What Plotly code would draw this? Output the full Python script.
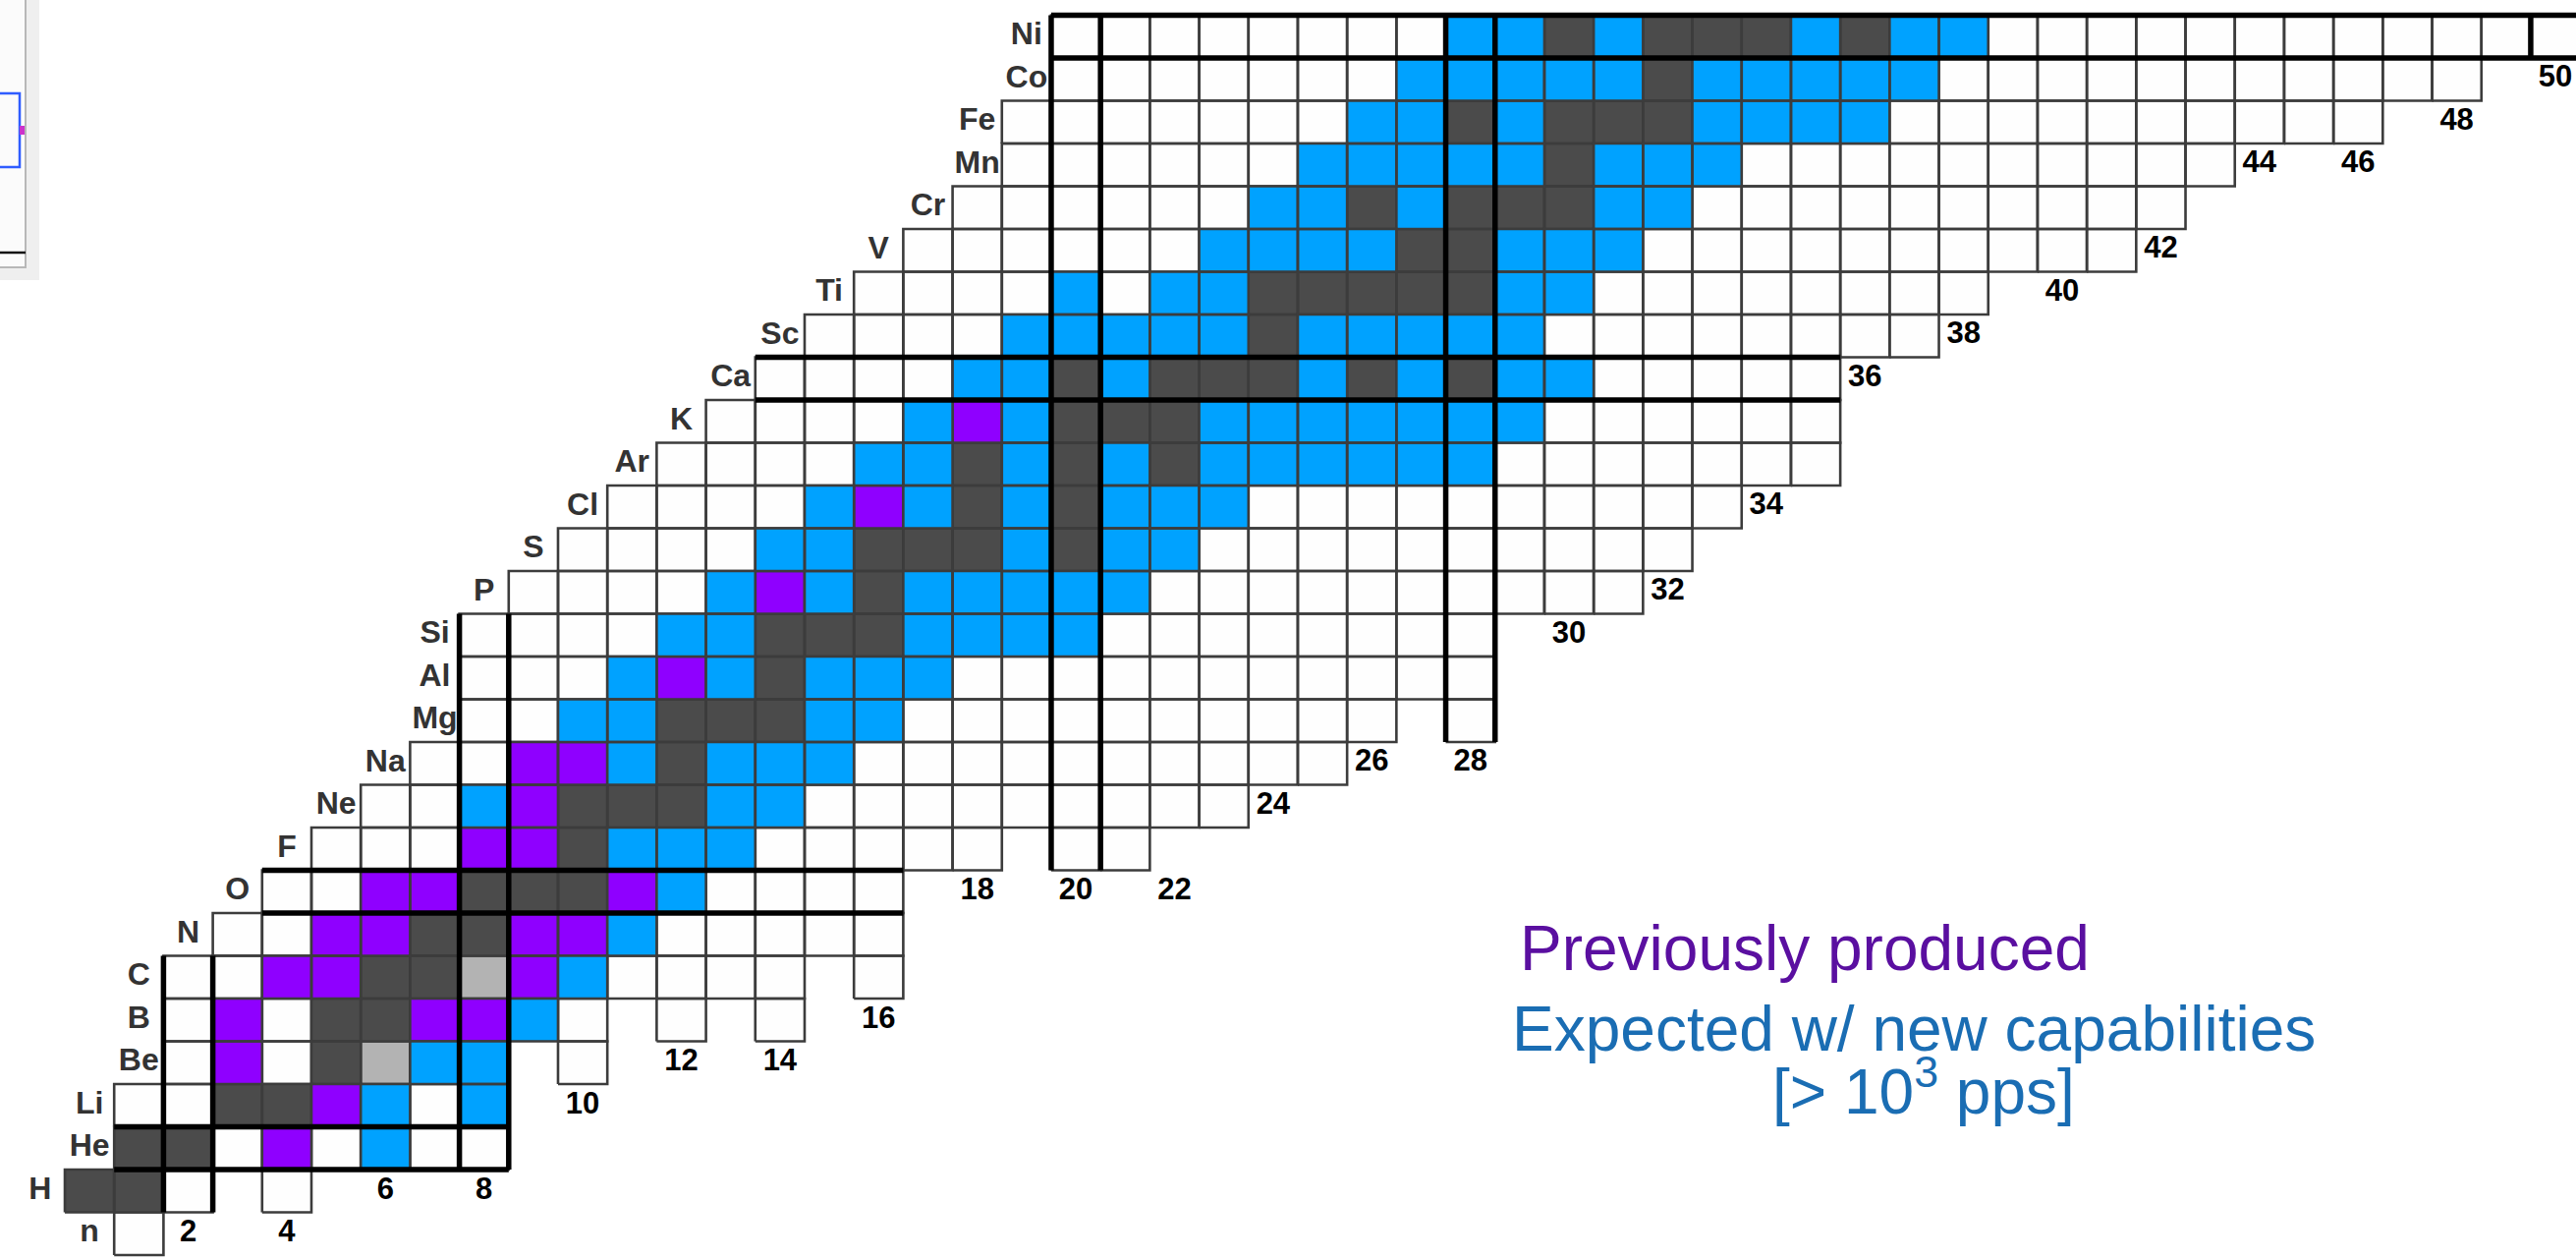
import plotly.graph_objects as go

# ---------------------------------------------------------------------------
# Chart of the light nuclides (n .. Ni).  One string per proton number Z,
# one character per neutron number N, starting at N_START[Z]:
#   D = stable, L = long-lived, P = previously produced,
#   B = expected with new capabilities, W = other known nuclide, - = no cell
# ---------------------------------------------------------------------------
ELEMENTS = ["n", "H", "He", "Li", "Be", "B", "C", "N", "O", "F", "Ne", "Na",
            "Mg", "Al", "Si", "P", "S", "Cl", "Ar", "K", "Ca", "Sc", "Ti", "V",
            "Cr", "Mn", "Fe", "Co", "Ni"]

N_START = [1, 0, 1, 1, 2, 2, 2, 3, 4, 5, 6, 7, 8, 8, 8, 9, 10, 11, 12, 13,
           14, 15, 16, 17, 18, 19, 19, 20, 20]

STATUS = [
    "W",                                  # n
    "DDW-W",                              # H
    "DDWPWBWW",                           # He
    "WWDDPBWB",                           # Li
    "WPWDLBB-W",                          # Be
    "WPWDDPPBW-W-W",                      # B
    "WWPPDDLPBWWWW-W",                    # C
    "WWPPDDPPBWWWWW",                     # N
    "WWPPDDDPBWWWW",                      # O
    "WWWPPDBBBWWWWW-WW",                  # F
    "WWBPDDDBBWWWWWWWWW",                 # Ne
    "WWPPBDBBBWWWWWWWWWW",                # Na
    "WWBBDDDBBWWWWWWWWWW-W",              # Mg
    "WWWBPBDBBBWWWWWWWWWWW",              # Al
    "WWWWBBDDDBBBBWWWWWWWW",              # Si
    "WWWWBPBDBBBBBWWWWWWWWWW",            # P
    "WWWWBBDDDBDBBWWWWWWWWWW",            # S
    "WWWWBPBDBDBBBWWWWWWWWWW",            # Cl
    "WWWWBBDBDBDBBBBBBWWWWWWW",           # Ar
    "WWWWBPBDDDBBBBBBBWWWWWW",            # K
    "WWWWBBDBDDDBDBDBBWWWWW",             # Ca
    "WWWWBBBBBDBBBBBWWWWWWWW",            # Sc
    "WWWWBWBBDDDDDBBWWWWWWWW",            # Ti
    "WWWWWWBBBBDDBBBWWWWWWWWWW",          # V
    "WWWWWWBBDBDDDBBWWWWWWWWWW",          # Cr
    "WWWWWWBBBBBDBBBWWWWWWWWWW",          # Mn
    "WWWWWWWBBDBDDDBBBBWWWWWWWWWW",       # Fe
    "WWWWWWWBBBBBDBBBBBWWWWWWWWWWW",      # Co
    "WWWWWWWWBBDBDDDBDBBWWWWWWWWWWWW",    # Ni
]

STATUS_COLORS = {"W": "#fefefe", "D": "#4b4b4b", "L": "#b3b3b3",
                 "P": "#8f00ff", "B": "#00a2ff"}

MAGIC = [2, 8, 20, 28, 50]

# neutron-number labels and the Z row they are printed in
N_TICKS = [2, 4, 6, 8, 10, 12, 14, 16, 18, 20, 22, 24, 26, 28, 30, 32, 34,
           36, 38, 40, 42, 44, 46, 48, 50]
N_TICK_ROW = [0, 0, 1, 1, 3, 4, 4, 5, 8, 8, 8, 10, 11, 11, 14, 15, 17, 20,
              21, 22, 23, 25, 25, 26, 27]

LEGEND_LINES = ["Previously produced", "Expected w/ new capabilities",
                "[> 10<sup>3</sup> pps]"]
LEGEND_COLORS = ["#5a0fa0", "#1a6db3", "#1a6db3"]

# ---------------------------------------------------------------------------
W, H = 2622, 1281
X_RANGE = [-1.815, 50.418]
Y_RANGE = [-0.592, 28.856]
LABEL_FONT = "Liberation Sans, Arial, Helvetica, sans-serif"


def px_to_paper(px, py):
    return px / W, 1 - py / H


cells = {}
for z, (n0, row) in enumerate(zip(N_START, STATUS)):
    for i, s in enumerate(row):
        if s != "-":
            cells.setdefault(s, []).append((n0 + i, z))
present = {nz for lst in cells.values() for nz in lst}

fig = go.Figure()

# filled cells, one trace per status colour
for s in ["W", "L", "D", "P", "B"]:
    xs, ys = [], []
    for n, z in cells.get(s, []):
        xs += [n - 0.5, n + 0.5, n + 0.5, n - 0.5, n - 0.5, None]
        ys += [z - 0.5, z - 0.5, z + 0.5, z + 0.5, z - 0.5, None]
    fig.add_trace(go.Scatter(
        x=xs, y=ys, mode="lines", fill="toself",
        fillcolor=STATUS_COLORS[s],
        line=dict(color="#3c3c3c", width=2.6),
        hoverinfo="skip", showlegend=False))

# heavy frames along the magic numbers (columns in N, rows in Z)
tx, ty = [], []
for m in MAGIC:
    zs = [z for (n, z) in present if n == m]
    if zs:
        z0, z1 = min(zs) - 0.5, max(zs) + 0.5
        for xe in (m - 0.5, m + 0.5):
            tx += [xe, xe, None]
            ty += [z0, z1, None]
    ns = [n for (n, z) in present if z == m]
    if ns:
        n0, n1 = min(ns) - 0.5, max(ns) + 0.5
        for ye in (m - 0.5, m + 0.5):
            tx += [n0, n1, None]
            ty += [ye, ye, None]
fig.add_trace(go.Scatter(x=tx, y=ty, mode="lines",
                         line=dict(color="#000000", width=5.5),
                         hoverinfo="skip", showlegend=False))

# element symbols, just left of each row
fig.add_trace(go.Scatter(
    x=[N_START[z] - 1 for z in range(len(ELEMENTS))],
    y=list(range(len(ELEMENTS))),
    mode="text", text=ELEMENTS, textposition="middle center",
    textfont=dict(family=LABEL_FONT, size=32, color="#333333", weight="bold"),
    hoverinfo="skip", showlegend=False))

# neutron numbers
fig.add_trace(go.Scatter(
    x=N_TICKS, y=N_TICK_ROW, mode="text",
    text=[str(n) for n in N_TICKS], textposition="middle center",
    textfont=dict(family=LABEL_FONT, size=31, color="#000000", weight="bold"),
    hoverinfo="skip", showlegend=False))

# legend text
legend_pos = [(1545, 965, "left"), (1537, 1047, "left"), (1958, 1106, "center")]
annotations = []
for text, color, (px, py, anchor) in zip(LEGEND_LINES, LEGEND_COLORS, legend_pos):
    x, y = px_to_paper(px, py)
    annotations.append(dict(
        x=x, y=y, xref="paper", yref="paper", text=text, showarrow=False,
        xanchor=anchor, yanchor="middle",
        font=dict(family=LABEL_FONT, size=64, color=color)))

# fragment of a neighbouring window in the top-left corner
shapes = []


def rect(x0, y0, x1, y1, **kw):
    a, b = px_to_paper(x0, y0)
    c, d = px_to_paper(x1, y1)
    shapes.append(dict(type="rect", xref="paper", yref="paper",
                       x0=a, y0=b, x1=c, y1=d, **kw))


def seg(x0, y0, x1, y1, color, width):
    a, b = px_to_paper(x0, y0)
    c, d = px_to_paper(x1, y1)
    shapes.append(dict(type="line", xref="paper", yref="paper",
                       x0=a, y0=b, x1=c, y1=d,
                       line=dict(color=color, width=width)))


rect(26, -5, 40, 285, fillcolor="#efefef", line=dict(width=0), layer="below")
rect(-5, 272, 40, 285, fillcolor="#efefef", line=dict(width=0), layer="below")
rect(-5, -5, 26, 272, fillcolor="#fbfbfb", line=dict(color="#b8b8b8", width=2),
     layer="below")
rect(-5, 95, 20, 170, fillcolor="rgba(0,0,0,0)",
     line=dict(color="#2f5cff", width=2.5))
rect(20, 128, 25, 137, fillcolor="#cc33cc", line=dict(width=0))
seg(0, 257, 26, 257, "#111111", 2.5)

fig.update_layout(
    width=W, height=H,
    margin=dict(l=0, r=0, t=0, b=0, pad=0),
    paper_bgcolor="white", plot_bgcolor="white",
    xaxis=dict(range=X_RANGE, visible=False, fixedrange=True),
    yaxis=dict(range=Y_RANGE, visible=False, fixedrange=True),
    showlegend=False, annotations=annotations, shapes=shapes)

fig.write_html("out.html")
